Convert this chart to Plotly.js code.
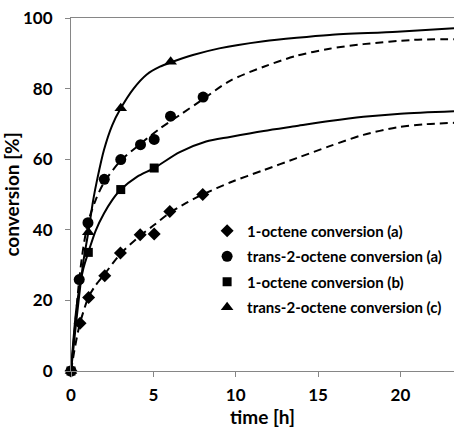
<!DOCTYPE html>
<html>
<head>
<meta charset="utf-8">
<script src="https://cdn.plot.ly/plotly-3.0.1.min.js"></script>
<style>html,body{margin:0;padding:0;background:#fff;}#chart{width:454px;height:429px;}</style>
</head>
<body>
<div id="chart"></div>
<script>
// Measured points
var oct1aX = [0, 0.55, 1.07, 2.05, 3, 4.2, 5.05, 6, 8];
var oct1aY = [0, 13.5, 20.8, 27, 33.4, 38.6, 38.8, 45.2, 50];
var t2aX = [0, 0.5, 1.03, 2.02, 3.02, 4.22, 5.05, 6.04, 8.02];
var t2aY = [0, 25.9, 42, 54.3, 59.9, 64.1, 65.6, 72.2, 77.6];
var oct1bX = [0, 1.05, 3.02, 5.05];
var oct1bY = [0, 33.6, 51.4, 57.5];
var t2cX = [0, 1.05, 3.02, 6.05];
var t2cY = [0, 39.3, 74.4, 87.6];

// Fitted curves
var fit1aX = [0, 0.25, 0.55, 1.07, 1.5, 2.05, 3, 4.2, 5, 6, 7, 8, 9.65, 11.7, 13.7, 15.7, 17.75, 19.8, 21.5, 23.25];
var fit1aY = [0, 7, 13.6, 21, 24.3, 27.5, 33.2, 38.3, 41.2, 44.8, 47.6, 50, 53.4, 56.9, 60.3, 63.7, 66.9, 69, 69.9, 70.3];
var fit2aX = [0, 0.25, 0.5, 0.75, 1.03, 1.5, 2.02, 3, 4.2, 5.4, 6.6, 7.8, 9.65, 11.7, 13.7, 15.7, 17.75, 20.8, 23.25];
var fit2aY = [0, 13, 25.9, 35, 42, 48.5, 53.5, 59.5, 64.3, 68.7, 72.5, 76.3, 82.2, 86.2, 89.3, 91.3, 92.6, 93.8, 94.0];
var fit1bX = [0, 0.35, 0.75, 1.05, 1.5, 2, 2.5, 3.02, 4, 5.05, 6.6, 8.2, 9.65, 11.7, 13.7, 15.7, 17.75, 20, 23.25];
var fit1bY = [0, 18.6, 29, 33.6, 39.8, 44.6, 48.4, 51.4, 55, 57.5, 62, 65, 66.3, 68, 69.4, 70.8, 72, 72.9, 73.6];
var fit2cX = [0, 0.25, 0.5, 0.75, 1.05, 1.35, 1.6, 2, 2.5, 3.02, 3.8, 4.6, 5.4, 6.05, 7.4, 9, 11.7, 13.7, 15.7, 19.8, 23.25];
var fit2cY = [0, 11, 21.5, 31, 39.3, 48.5, 54.5, 62.6, 69.6, 74.4, 80, 84, 86.2, 87.4, 89.5, 91.4, 93.4, 94.4, 95.2, 96.1, 97.1];

var seriesNames = ['1-octene conversion (a)', 'trans-2-octene conversion (a)', '1-octene conversion (b)', 'trans-2-octene conversion (c)'];

var dashStyle = '8px,5px';
function fitTrace(x, y, dash) {
  return {x: x, y: y, mode: 'lines', type: 'scatter', showlegend: false, hoverinfo: 'skip',
    line: {color: '#000', width: 2, dash: dash, shape: 'spline', smoothing: 0.8}};
}
function ptTrace(x, y, name, symbol, size, grp) {
  return {x: x, y: y, mode: 'markers', type: 'scatter', name: name, legendgroup: grp, cliponaxis: false,
    marker: {color: '#000', symbol: symbol, size: size}};
}

var data = [
  fitTrace(fit1aX, fit1aY, dashStyle),
  fitTrace(fit2aX, fit2aY, dashStyle),
  fitTrace(fit1bX, fit1bY, 'solid'),
  fitTrace(fit2cX, fit2cY, 'solid'),
  ptTrace(oct1aX, oct1aY, seriesNames[0], 'diamond', 10, 'g1'),
  ptTrace(t2aX, t2aY, seriesNames[1], 'circle', 11, 'g2'),
  ptTrace(oct1bX, oct1bY, seriesNames[2], 'square', 9, 'g3'),
  ptTrace(t2cX, t2cY, seriesNames[3], 'triangle-up', 11, 'g4')
];

var axisColor = '#868686';
var fam = 'Lato, sans-serif';
var tickFont = {family: fam, size: 17, color: '#000', weight: 'bold'};
var layout = {
  width: 454, height: 429,
  margin: {l: 71, r: 0, t: 18, b: 58, pad: 0},
  paper_bgcolor: '#fff', plot_bgcolor: '#fff',
  showlegend: true,
  legend: {x: 0.982, y: 0.443, xanchor: 'right', yanchor: 'top', bgcolor: 'rgba(0,0,0,0)',
    font: {family: fam, size: 15, color: '#000', weight: 'bold'},
    traceorder: 'grouped', tracegroupgap: 3, itemwidth: 30},
  xaxis: {range: [0, 23.25], tickvals: [0, 5, 10, 15, 20], ticks: 'outside', ticklen: 5, tickcolor: axisColor,
    showline: true, linecolor: axisColor, linewidth: 1, mirror: true, showgrid: false, zeroline: false,
    automargin: false, tickfont: tickFont, ticklabelstandoff: 4,
    title: {text: 'time [h]', font: {family: fam, size: 19, color: '#000', weight: 'bold'}, standoff: 6}},
  yaxis: {range: [0, 100], tickvals: [0, 20, 40, 60, 80, 100], ticks: 'outside', ticklen: 5, tickcolor: axisColor,
    showline: true, linecolor: axisColor, linewidth: 1, showgrid: false, zeroline: false,
    automargin: false, tickfont: tickFont, ticklabelstandoff: 9,
    title: {text: 'conversion [%]', font: {family: fam, size: 19, color: '#000', weight: 'bold'}, standoff: 8}}
};

Plotly.newPlot('chart', data, layout, {displayModeBar: false, staticPlot: true});
</script>
</body>
</html>
